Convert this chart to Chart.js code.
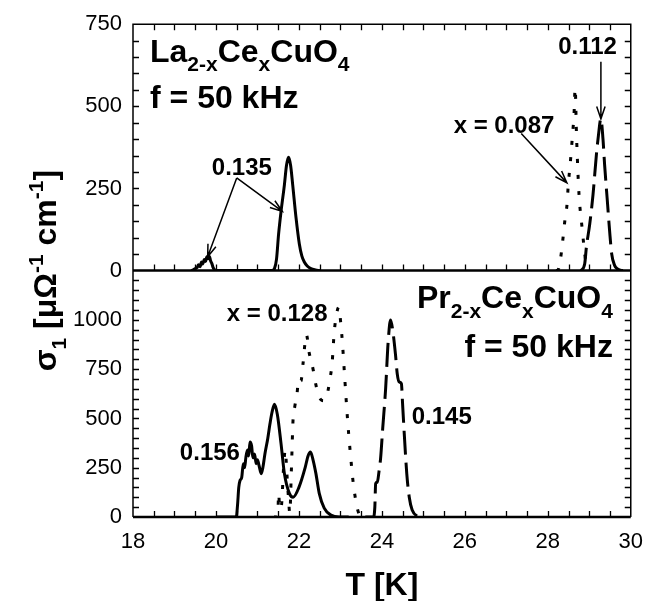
<!DOCTYPE html>
<html>
<head>
<meta charset="utf-8">
<script src="https://cdn.jsdelivr.net/npm/chart.js@4.4.1/dist/chart.umd.min.js"></script>
<style>
  html, body { margin: 0; padding: 0; background: #fff; }
</style>
</head>
<body>
<canvas id="chart" width="655" height="601"></canvas>
<script>
// ── Data ──────────────────────────────────────────────────────────────────
// upper panel: La(2-x)Ce(x)CuO4
const tLa135 = [19.40, 19.45, 19.50, 19.55, 19.58, 19.62, 19.65, 19.68, 19.72, 19.75, 19.78, 19.81, 19.84, 19.87, 19.90, 19.93, 19.97, 20.02,
                21.35, 21.41, 21.46, 21.51, 21.57, 21.65, 21.70, 21.75, 21.80, 21.85, 21.93, 22.01, 22.07, 22.13, 22.20, 22.29, 22.40, 22.50];
const sLa135 = [0, 2, 6, 10, 18, 12, 26, 20, 34, 28, 42, 36, 44, 30, 22, 10, 2, 0,
                0, 6, 35, 111, 181, 261, 320, 345, 320, 261, 161, 81, 45, 26, 14, 6, 2, 0];
const tLa087 = [28.20, 28.25, 28.30, 28.35, 28.41, 28.47, 28.49, 28.53, 28.57, 28.60, 28.63, 28.66, 28.69, 28.71, 28.74, 28.77, 28.81, 28.85, 28.89, 28.93, 28.97];
const sLa087 = [0, 3, 30, 80, 151, 211, 256, 311, 370, 420, 470, 556, 420, 350, 260, 200, 150, 100, 51, 15, 0];
const tLa112 = [28.80, 28.89, 28.93, 29.01, 29.09, 29.17, 29.22, 29.28, 29.33, 29.37, 29.43, 29.49, 29.54, 29.61, 29.68, 29.75, 29.85];
const sLa112 = [0, 21, 71, 141, 231, 351, 411, 462, 401, 321, 221, 121, 51, 16, 5, 1, 0];

// lower panel: Pr(2-x)Ce(x)CuO4
const tPr156 = [20.00, 20.49, 20.52, 20.55, 20.58, 20.62, 20.66, 20.69, 20.72, 20.76, 20.79, 20.82, 20.86, 20.89, 20.93, 20.97, 21.00, 21.04, 21.09, 21.13,
                21.18, 21.25, 21.30, 21.35, 21.41, 21.48, 21.57, 21.65, 21.77, 21.86, 22.00, 22.15, 22.22, 22.28, 22.34, 22.41, 22.49, 22.61, 22.77, 22.97, 23.20];
const sPr156 = [0, 0, 60, 150, 185, 200, 270, 250, 300, 340, 310, 380, 360, 300, 320, 270, 290, 260, 220, 250,
                320, 400, 470, 530, 572, 520, 370, 220, 120, 100, 150, 250, 310, 330, 290, 220, 120, 45, 10, 0, 0];
const tPr128 = [21.40, 21.49, 21.51, 21.54, 21.58, 21.63, 21.67, 21.71, 21.75, 21.78, 21.82, 21.86, 21.90, 21.95, 22.00, 22.05, 22.10, 22.18, 22.25, 22.30,
                22.35, 22.41, 22.47, 22.53, 22.60, 22.65, 22.70, 22.74, 22.80, 22.85, 22.90, 22.96, 23.01, 23.05, 23.10, 23.15, 23.20, 23.25, 23.30, 23.35,
                23.40, 23.45, 23.52];
const sPr128 = [0, 0, 120, 40, 60, 250, 340, 220, 90, 20, 250, 500, 560, 620, 700, 690, 780, 925, 830, 790,
                740, 670, 620, 595, 590, 600, 640, 690, 780, 935, 1020, 1065, 980, 880, 720, 560, 420, 300, 190, 110,
                50, 15, 0];
const tPr145 = [23.60, 23.80, 23.83, 23.85, 23.89, 23.93, 23.97, 24.02, 24.09, 24.15, 24.21, 24.26, 24.33, 24.37, 24.42, 24.47, 24.50, 24.54, 24.60, 24.66, 24.73, 24.85, 25.00];
const sPr145 = [0, 0, 50, 170, 177, 230, 300, 450, 650, 885, 1000, 950, 820, 727, 685, 677, 570, 420, 220, 100, 35, 5, 0];

// tick labels
const xTicks = [18, 20, 22, 24, 26, 28, 30];
const yTopTicks = [0, 250, 500, 750];
const yBotTicks = [0, 250, 500, 750, 1000];

// ── Styling ───────────────────────────────────────────────────────────────
const FONT = "'Liberation Sans', Arial, Helvetica, sans-serif";
const SOLID = [];
const DASHED = [24, 8];
const DOTTED = [4, 12];

function series(t, s, axis, dash, width) {
    return {
        data: t.map((x, i) => ({ x, y: s[i] })),
        yAxisID: axis,
        borderColor: '#000',
        borderWidth: width,
        borderDash: dash,
        pointRadius: 0,
        cubicInterpolationMode: 'monotone',
        fill: false,
    };
}

// text annotations, in data units of the panel they sit in
const notes = [
    { axis: 'yTop', x: 19.90, y: 291, size: 24, text: [{ t: '0.135' }] },
    { axis: 'yTop', x: 25.73, y: 420, size: 24, text: [{ t: 'x = 0.087' }] },
    { axis: 'yTop', x: 28.25, y: 660, size: 24, text: [{ t: '0.112' }] },
    { axis: 'yTop', x: 18.41, y: 636, size: 32,
      text: [{ t: 'La' }, { t: '2-x', sub: true }, { t: 'Ce' }, { t: 'x', sub: true }, { t: 'CuO' }, { t: '4', sub: true }] },
    { axis: 'yTop', x: 18.41, y: 495, size: 32, text: [{ t: 'f = 50 kHz' }] },
    { axis: 'yBot', x: 20.26, y: 995, size: 24, text: [{ t: 'x = 0.128' }] },
    { axis: 'yBot', x: 19.13, y: 290, size: 24, text: [{ t: '0.156' }] },
    { axis: 'yBot', x: 24.72, y: 470, size: 24, text: [{ t: '0.145' }] },
    { axis: 'yBot', x: 29.57, y: 1060, size: 32, align: 'right',
      text: [{ t: 'Pr' }, { t: '2-x', sub: true }, { t: 'Ce' }, { t: 'x', sub: true }, { t: 'CuO' }, { t: '4', sub: true }] },
    { axis: 'yBot', x: 29.57, y: 810, size: 32, align: 'right', text: [{ t: 'f = 50 kHz' }] },
];

const arrows = [
    { axis: 'yTop', from: [20.50, 282], to: [19.80, 42] },
    { axis: 'yTop', from: [20.50, 282], to: [21.60, 180] },
    { axis: 'yTop', from: [27.36, 417], to: [28.46, 267] },
    { axis: 'yTop', from: [29.28, 636], to: [29.28, 462] },
];

// ── Drawing helpers ───────────────────────────────────────────────────────
function richWidth(ctx, parts, size) {
    let w = 0;
    for (const p of parts) {
        const s = p.sub || p.sup ? Math.round(size * 0.66) : size;
        ctx.font = `bold ${s}px ${FONT}`;
        w += ctx.measureText(p.t).width;
    }
    return w;
}

function drawRich(ctx, parts, x, y, size) {
    let cx = x;
    for (const p of parts) {
        const s = p.sub || p.sup ? Math.round(size * 0.66) : size;
        ctx.font = `bold ${s}px ${FONT}`;
        let dy = 0;
        if (p.sub) dy = size * 0.3;
        if (p.sup) dy = -size * 0.42;
        ctx.fillText(p.t, cx, y + dy);
        cx += ctx.measureText(p.t).width;
    }
}

const framePlugin = {
    id: 'frame',
    afterDatasetsDraw(chart) {
        const { ctx } = chart;
        const x = chart.scales.x;
        const yt = chart.scales.yTop;
        const yb = chart.scales.yBot;
        const L = x.left, R = x.right;
        const T = yt.top, M = yt.bottom, B = yb.bottom;
        const TL = 6;

        ctx.save();
        ctx.strokeStyle = '#000';
        ctx.lineCap = 'butt';

        // inward ticks
        ctx.lineWidth = 1.3;
        ctx.beginPath();
        for (let v = 18.5; v < 30; v += 0.5) {
            const px = Math.round(x.getPixelForValue(v)) + 0.5;
            ctx.moveTo(px, T); ctx.lineTo(px, T + TL);
            ctx.moveTo(px, M); ctx.lineTo(px, M - TL);
            ctx.moveTo(px, B); ctx.lineTo(px, B - TL);
        }
        for (let v = 50; v < 750; v += 50) {
            const py = Math.round(yt.getPixelForValue(v)) + 0.5;
            ctx.moveTo(L, py); ctx.lineTo(L + TL, py);
            ctx.moveTo(R, py); ctx.lineTo(R - TL, py);
        }
        for (let v = 50; v < 1250; v += 50) {
            const py = Math.round(yb.getPixelForValue(v)) + 0.5;
            ctx.moveTo(L, py); ctx.lineTo(L + TL, py);
            ctx.moveTo(R, py); ctx.lineTo(R - TL, py);
        }
        ctx.stroke();

        // frame
        ctx.lineWidth = 1.5;
        ctx.beginPath();
        ctx.moveTo(L, B); ctx.lineTo(L, T); ctx.lineTo(R, T); ctx.lineTo(R, B);
        ctx.stroke();
        ctx.lineWidth = 2.5;
        ctx.beginPath();
        ctx.moveTo(L, M); ctx.lineTo(R, M);
        ctx.moveTo(L, B); ctx.lineTo(R, B);
        ctx.stroke();
        ctx.restore();
    },
    afterDraw(chart) {
        const { ctx } = chart;
        const x = chart.scales.x;
        ctx.save();
        ctx.fillStyle = '#000';
        ctx.strokeStyle = '#000';
        ctx.textBaseline = 'alphabetic';
        ctx.textAlign = 'left';

        for (const n of notes) {
            const ys = chart.scales[n.axis];
            let px = x.getPixelForValue(n.x);
            const py = ys.getPixelForValue(n.y);
            if (n.align === 'right') px -= richWidth(ctx, n.text, n.size);
            drawRich(ctx, n.text, px, py, n.size);
        }

        ctx.lineWidth = 1.5;
        for (const a of arrows) {
            const ys = chart.scales[a.axis];
            const x0 = x.getPixelForValue(a.from[0]), y0 = ys.getPixelForValue(a.from[1]);
            const x1 = x.getPixelForValue(a.to[0]), y1 = ys.getPixelForValue(a.to[1]);
            const ang = Math.atan2(y1 - y0, x1 - x0);
            const hl = 13, spread = 0.33;
            ctx.beginPath();
            ctx.moveTo(x0, y0); ctx.lineTo(x1, y1);
            ctx.moveTo(x1 - hl * Math.cos(ang - spread), y1 - hl * Math.sin(ang - spread));
            ctx.lineTo(x1, y1);
            ctx.lineTo(x1 - hl * Math.cos(ang + spread), y1 - hl * Math.sin(ang + spread));
            ctx.stroke();
        }

        // y-axis title spanning both panels
        const yTitle = [{ t: 'σ' }, { t: '1', sub: true }, { t: ' [μΩ' }, { t: '-1', sup: true },
                        { t: ' cm' }, { t: '-1', sup: true }, { t: ']' }];
        const size = 32;
        const w = richWidth(ctx, yTitle, size);
        const cy = (chart.scales.yTop.top + chart.scales.yBot.bottom) / 2;
        ctx.translate(56, cy);
        ctx.rotate(-Math.PI / 2);
        drawRich(ctx, yTitle, -w / 2, 0, size);
        ctx.restore();
    },
};

const plainNumber = (v) => String(v);

// ── Chart ─────────────────────────────────────────────────────────────────
new Chart(document.getElementById('chart'), {
    type: 'line',
    data: {
        datasets: [
            series(tLa135, sLa135, 'yTop', SOLID, 3),
            series(tLa087, sLa087, 'yTop', DOTTED, 3),
            series(tLa112, sLa112, 'yTop', DASHED, 3),
            series(tPr156, sPr156, 'yBot', SOLID, 3),
            series(tPr128, sPr128, 'yBot', DOTTED, 3),
            series(tPr145, sPr145, 'yBot', DASHED, 3),
        ],
    },
    options: {
        responsive: false,
        animation: false,
        devicePixelRatio: 1,
        layout: { padding: { top: 17, right: 22, left: 0, bottom: 0 } },
        plugins: { legend: { display: false }, tooltip: { enabled: false } },
        scales: {
            x: {
                type: 'linear',
                min: 18,
                max: 30,
                afterBuildTicks: (s) => { s.ticks = xTicks.map((value) => ({ value })); },
                ticks: { color: '#000', font: { family: FONT, size: 22 }, padding: 12, maxRotation: 0, callback: plainNumber },
                grid: { display: false, drawTicks: false },
                border: { display: false },
                title: {
                    display: true,
                    text: 'T [K]',
                    color: '#000',
                    font: { family: FONT, size: 32, weight: 'bold', lineHeight: 0.9 },
                    padding: { top: 0, bottom: 0 },
                },
                afterFit: (s) => { s.height = 84; },
            },
            yBot: {
                type: 'linear',
                position: 'left',
                stack: 'panels',
                stackWeight: 1,
                min: 0,
                max: 1250,
                afterBuildTicks: (s) => { s.ticks = yBotTicks.map((value) => ({ value })); },
                ticks: { color: '#000', font: { family: FONT, size: 22 }, padding: 11, callback: plainNumber },
                grid: { display: false, drawTicks: false },
                border: { display: false },
                afterFit: (s) => { s.width = 133; },
            },
            yTop: {
                type: 'linear',
                position: 'left',
                stack: 'panels',
                stackWeight: 1,
                min: 0,
                max: 750,
                afterBuildTicks: (s) => { s.ticks = yTopTicks.map((value) => ({ value })); },
                ticks: { color: '#000', font: { family: FONT, size: 22 }, padding: 11, callback: plainNumber },
                grid: { display: false, drawTicks: false },
                border: { display: false },
                afterFit: (s) => { s.width = 133; },
            },
        },
    },
    plugins: [framePlugin],
});
</script>
</body>
</html>
